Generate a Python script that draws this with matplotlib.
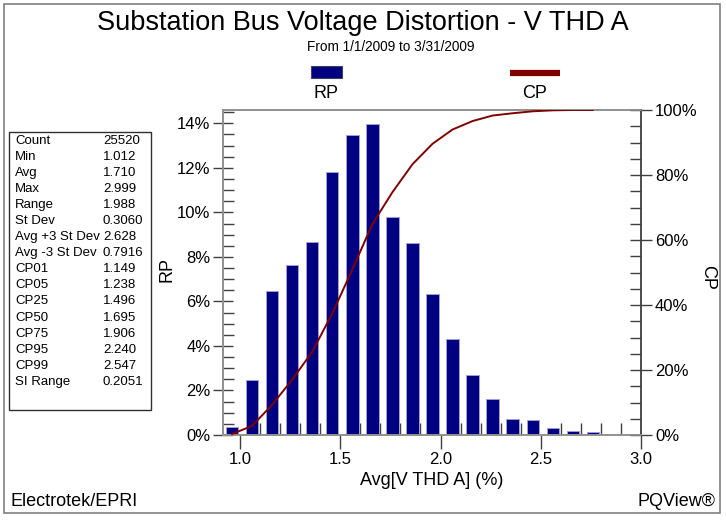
import numpy as np
import matplotlib
matplotlib.use("Agg")
import matplotlib.pyplot as plt
from matplotlib.patches import Rectangle
from matplotlib.lines import Line2D

plt.rcParams['font.family'] = ['Liberation Sans', 'DejaVu Sans']

# bin centres of Avg[V THD A] (%) and relative / cumulative probability (%)
bin_centers = [0.96, 1.06, 1.16, 1.26, 1.36, 1.46, 1.56, 1.66, 1.76, 1.86,
               1.96, 2.06, 2.16, 2.26, 2.36, 2.46, 2.56, 2.66, 2.76]
rp = [0.37, 2.47, 6.48, 7.63, 8.67, 11.81, 13.46, 13.98, 9.81, 8.62,
      6.32, 4.33, 2.68, 1.63, 0.72, 0.66, 0.31, 0.18, 0.12]
cp = [0.3, 2.8, 9.3, 17.0, 25.6, 37.4, 50.9, 64.9, 74.7, 83.3,
      89.6, 94.0, 96.6, 98.3, 99.0, 99.6, 99.9, 100.0, 100.0]

stat_names = ['Count', 'Min', 'Avg', 'Max', 'Range', 'St Dev', 'Avg +3 St Dev',
              'Avg -3 St Dev', 'CP01', 'CP05', 'CP25', 'CP50', 'CP75', 'CP95',
              'CP99', 'SI Range']
stat_values = ['25520', '1.012', '1.710', '2.999', '1.988', '0.3060', '2.628',
               '0.7916', '1.149', '1.238', '1.496', '1.695', '1.906', '2.240',
               '2.547', '0.2051']

W, H = 726, 521
fig = plt.figure(figsize=(W / 100, H / 100), dpi=100)
fig.patch.set_facecolor('white')

def fx(px):
    return px / W

def fy(py):
    return 1 - py / H

# outer frame
fig.patches.append(Rectangle((fx(4), fy(513)), fx(716), (513 - 4) / H,
                             transform=fig.transFigure, fill=False,
                             edgecolor='#808080', linewidth=1.2))

ax = fig.add_axes([fx(223), fy(435), fx(641 - 223), (435 - 110) / H])
ax2 = ax.twinx()

ax.bar(bin_centers, rp, width=0.062, color='#000080', edgecolor='#a0a0d8',
       linewidth=0.7, zorder=2)
ax2.plot(bin_centers, cp, color='#800000', linewidth=1.4, zorder=3)

ax.set_xlim(0.915, 3.0)
ax.set_ylim(0, 14.6)
ax2.set_ylim(0, 100)

ax.set_xticks([1.0, 1.5, 2.0, 2.5, 3.0])
ax.set_xticklabels(['1.0', '1.5', '2.0', '2.5', '3.0'])
ax.set_xticks(np.arange(1.0, 3.0, 0.1), minor=True)
ax.set_yticks(range(0, 15, 2))
ax.set_yticklabels([f'{v}%' for v in range(0, 15, 2)])
ax.set_yticks(np.arange(0, 14.6, 0.5), minor=True)
ax2.set_yticks(range(0, 101, 20))
ax2.set_yticklabels([f'{v}%' for v in range(0, 101, 20)])
ax2.set_yticks(range(0, 101, 5), minor=True)

ax.tick_params(axis='x', which='major', direction='out', length=10, width=1,
               color='#404040', labelsize=12, pad=2)
ax.tick_params(axis='x', which='minor', direction='in', length=9, width=1,
               color='#404040')
ax.tick_params(axis='y', which='major', direction='inout', length=14, width=1,
               color='#404040', labelsize=12, pad=2)
ax.tick_params(axis='y', which='minor', direction='in', length=8, width=1,
               color='#404040')
ax2.tick_params(axis='y', which='major', direction='inout', length=16, width=1,
                color='#404040', labelsize=12, pad=2)
ax2.tick_params(axis='y', which='minor', direction='in', length=8, width=1,
                color='#404040')

for a in (ax, ax2):
    for s in a.spines.values():
        s.set_color('#909090')
        s.set_linewidth(1.2)
ax2.spines['right'].set_color('#404040')

ax.set_xlabel('Avg[V THD A] (%)', fontsize=13, labelpad=4)
ax.set_ylabel('RP', fontsize=13, va='center')
ax.yaxis.set_label_coords(-0.134, 0.508)
ax2.set_ylabel('CP', fontsize=13, rotation=270, va='center')
ax2.yaxis.set_label_coords(1.160, 0.486)

fig.text(fx(362.5), fy(23), 'Substation Bus Voltage Distortion - V THD A',
         fontsize=19.5, ha='center', va='center')
fig.text(fx(391), fy(47), 'From 1/1/2009 to 3/31/2009', fontsize=9.8,
         ha='center', va='center')

# legend
fig.patches.append(Rectangle((fx(311), fy(78)), fx(31), 12 / H,
                             transform=fig.transFigure, facecolor='#000080',
                             edgecolor='#404060', linewidth=0.8))
fig.lines.append(Line2D([fx(510), fx(560)], [fy(72.5), fy(72.5)],
                        transform=fig.transFigure, color='#800000',
                        linewidth=4.5, solid_capstyle='butt'))
fig.text(fx(326), fy(94), 'RP', fontsize=13, ha='center', va='center')
fig.text(fx(535), fy(94), 'CP', fontsize=13, ha='center', va='center')

# statistics box
fig.patches.append(Rectangle((fx(9), fy(410)), fx(142), (410 - 132) / H,
                             transform=fig.transFigure, fill=False,
                             edgecolor='#303030', linewidth=1))
for i, (n, v) in enumerate(zip(stat_names, stat_values)):
    y = fy(140.5 + i * 16.1)
    fig.text(fx(15), y, n, fontsize=9.5, ha='left', va='center')
    fig.text(fx(103), y, v, fontsize=9.5, ha='left', va='center')

fig.text(fx(10), fy(501), 'Electrotek/EPRI', fontsize=13, ha='left', va='center')
fig.text(fx(715), fy(501), 'PQView®', fontsize=13, ha='right', va='center')

fig.savefig('out.png', dpi=100)
